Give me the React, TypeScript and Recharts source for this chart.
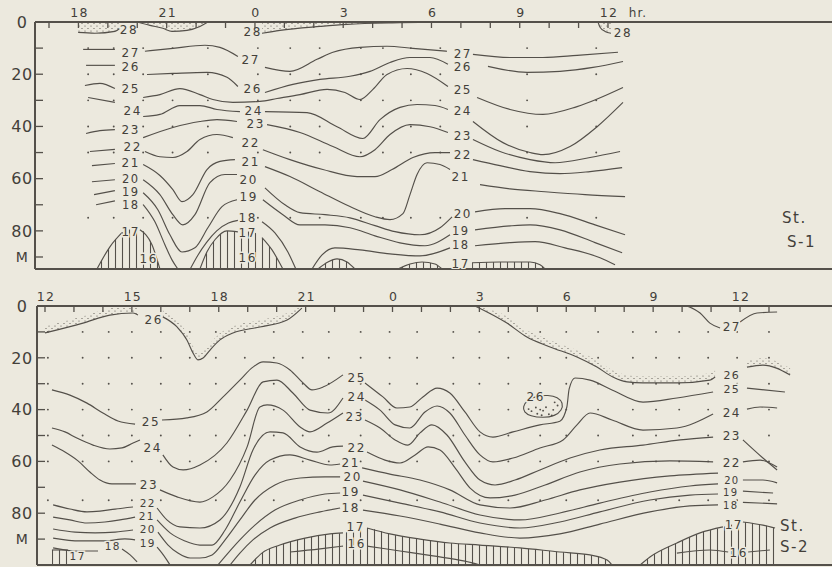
import React from 'react';
import { ComposedChart, Line, Area, Scatter, XAxis, YAxis, ReferenceLine } from 'recharts';

const BG = '#ece9de';
const INK = '#54504a';
const TXT = '#43403a';
const FONT = '"DejaVu Sans", "Liberation Sans", sans-serif';

type Pt = [number, number];
type Lb = [number, number, string, number?];

// ---------------- TOP PANEL (St. S-1) : hour (18 = 18h, 24 = 0h, 36 = 12h), depth m ----------------
const topHourTicks = [17, 18, 19, 20, 21, 22, 23, 24, 25, 26, 27, 28, 29, 30, 31, 32, 33, 34, 35, 36];
const topHourLabels: Record<number, string> = { 18: '18', 21: '21', 24: '0', 27: '3', 30: '6', 33: '9', 36: '12' };
const depthTicks = [0, 10, 20, 30, 40, 50, 60, 70, 80, 90];

const t28a: Pt[] = [[17.99, 4], [18.56, 4.3], [19.24, 3.6], [19.41, 2.4]];
const t28b: Pt[] = [[20.03, 0.1], [20.43, 1.3], [20.87, 2.4], [21.18, 3.6], [21.69, 3.2], [22.13, 1.7], [22.4, 0]];
const t28c: Pt[] = [[24.24, 4.3], [24.85, 3.2], [26.21, 1.7], [27.13, 0.9], [28.93, 0.3], [30.87, 0]];
const t28d: Pt[] = [[35.66, 0], [35.73, 2], [35.9, 3.6], [36.1, 4.3]];

const t27a: Pt[] = [[18.16, 10.5], [19.24, 10.5]];
const t27b: Pt[] = [[20.26, 11.2], [21.21, 10.1], [22.3, 8.9], [22.81, 9.7], [23.42, 13.2]];
const t27c: Pt[] = [[24.34, 17.4], [25.19, 18.9], [26.11, 14.3], [26.65, 11.6], [27.57, 9.7], [28.49, 9.3], [29.37, 10.1], [30.53, 11.2]];
const t27d: Pt[] = [[31.41, 12.4], [32.67, 13.6], [33.79, 13.6], [34.95, 12.8], [36.34, 11.6]];

const t26a: Pt[] = [[18.26, 16.6], [19.24, 16.6]];
const t26b: Pt[] = [[20.33, 20.1], [21.21, 19.7], [22.37, 19.3], [23.05, 21.2], [23.42, 24.7]];
const t26c: Pt[] = [[24.34, 27], [25.29, 23.9], [26.21, 22], [27.23, 20.8], [27.91, 18.9], [28.59, 15.5], [29.27, 13.6], [29.95, 13.6], [30.56, 16.2]];
const t26d: Pt[] = [[31.92, 17], [33.25, 19.3], [34.37, 18.9], [35.49, 17.4], [36.51, 15.1]];

const t25a: Pt[] = [[18.22, 24.3], [18.73, 23.5], [19.24, 25.5]];
const t25b: Pt[] = [[20.2, 28.9], [20.77, 27.8], [21.45, 25.5], [22.13, 27.8], [22.57, 29.7], [23.25, 30.8], [24.17, 30.4], [24.75, 29.3], [25.53, 27.8], [26.45, 25.8], [27.06, 27], [27.57, 29.7], [28.01, 25.8], [28.49, 20.1], [29.17, 17.8], [29.85, 19.7], [30.56, 24.7]];
const t25d: Pt[] = [[31.55, 28.9], [32.67, 33.5], [33.79, 35.4], [34.95, 32.4], [36.51, 25.1]];

const t24a: Pt[] = [[18.33, 28.9], [19.24, 30.8]];
const t24b: Pt[] = [[20.2, 36.2], [20.77, 35.4], [21.45, 32], [22.13, 32], [22.71, 33.5], [23.49, 34.3]];
const t24c: Pt[] = [[24.34, 34.3], [25.77, 34.7], [26.79, 40.1], [27.67, 44.6], [28.25, 37.4], [28.93, 32.7], [29.51, 31.6], [30.12, 32], [30.56, 33.5]];
const t24d: Pt[] = [[31.41, 38.1], [32.43, 46.2], [33.35, 50], [33.79, 50.8], [34.71, 47.7], [35.63, 40.1], [36.51, 30.8]];

const t23a: Pt[] = [[18.26, 42.7], [18.73, 41.6], [19.24, 41.2]];
const t23b: Pt[] = [[20.2, 44.3], [21.21, 40.4], [22.13, 38.1], [22.71, 37.4], [23.39, 38.1]];
const t23c: Pt[] = [[24.41, 39.3], [25.53, 42.3], [26.65, 47.7], [27.57, 51.6], [28.08, 48.9], [28.59, 43.1], [29.27, 39.3], [29.95, 40.1], [30.56, 42.3]];
const t23d: Pt[] = [[31.41, 45], [32.33, 49.6], [33.35, 52.7], [34.2, 53.9], [35.39, 51.9], [36.41, 49.6]];

const t22a: Pt[] = [[18.39, 49.6], [19.24, 48.8]];
const t22b: Pt[] = [[20.26, 49.6], [20.77, 51.6], [21.21, 51.9], [21.69, 49.6], [22.13, 45], [22.71, 43.1], [23.25, 44.3]];
const t22c: Pt[] = [[24.27, 48.9], [25.19, 52.7], [26.31, 56.5], [27.47, 59.2], [28.08, 59.2], [28.66, 56.5], [29.37, 51.9], [30.12, 50], [30.63, 50]];
const t22d: Pt[] = [[31.41, 52.7], [32.33, 55], [33.35, 57.3], [34.37, 58.1], [35.39, 57.3], [36.48, 55.8]];

const t21a: Pt[] = [[18.46, 55], [19.24, 54.2]];
const t21b: Pt[] = [[20.2, 54.6], [20.77, 58.8], [21.21, 64.2], [21.52, 68.8], [21.89, 66.1], [22.37, 56.5], [22.81, 53.4], [23.32, 52.7]];
const t21c: Pt[] = [[24.34, 55.4], [25.19, 59.2], [26.21, 65], [27.23, 70.7], [28.08, 74.6], [28.59, 75.7], [29.03, 73.4], [29.27, 66.1], [29.51, 58.4], [29.85, 53.9], [30.29, 54.6], [30.63, 56.5]];
const t21d: Pt[] = [[31.65, 62.3], [32.67, 63.9], [33.86, 65], [35.22, 66.1], [36.58, 66.9]];

const t20a: Pt[] = [[18.46, 61.2], [19.24, 60.4]];
const t20b: Pt[] = [[20.2, 60.4], [20.77, 66.1], [21.21, 73.8], [21.55, 77.7], [21.96, 73.8], [22.47, 61.5], [22.98, 58.4], [23.39, 58.4]];
const t20c: Pt[] = [[24.34, 63.5], [25.02, 70], [25.53, 73], [26.38, 73.8], [27.23, 75], [28.08, 78], [28.76, 80.3], [29.61, 81.5], [30.29, 78.8], [30.7, 74.6]];
const t20d: Pt[] = [[31.48, 72.7], [32.5, 71.5], [33.35, 71.5], [34.37, 73.4], [35.56, 77.7], [36.58, 81.5]];

const t19a: Pt[] = [[18.53, 66.1], [19.24, 64.6]];
const t19b: Pt[] = [[20.2, 65.4], [20.7, 71.9], [21.11, 81.5], [21.52, 88.1], [21.96, 86.5], [22.4, 78.8], [22.88, 70.7], [23.39, 68.1]];
const t19c: Pt[] = [[24.27, 68.1], [24.95, 73.8], [25.53, 77.7], [26.38, 77.7], [27.23, 78.8], [28.08, 81.9], [28.93, 84.6], [29.78, 85.7], [30.63, 81.5]];
const t19d: Pt[] = [[31.48, 79.6], [32.67, 78.1], [33.35, 77.7], [34.37, 79.6], [35.56, 84.5], [36.48, 88.4]];

const t18a: Pt[] = [[18.6, 70], [19.24, 68.5]];
const t18b: Pt[] = [[20.2, 69.9], [20.6, 76.5], [20.94, 85.3], [21.18, 91.1], [21.38, 94.6]];
const t18c: Pt[] = [[21.8, 94.6], [22.05, 89.5], [22.35, 84.5], [22.7, 80], [23.1, 77], [23.42, 76]];
const t18d: Pt[] = [[24.24, 76.5], [24.68, 80.8], [25.12, 88.1], [25.39, 94.6]];
const t18e: Pt[] = [[25.94, 94.6], [26.28, 89.2], [26.72, 86.5], [27.57, 87.3], [28.59, 88.8], [29.61, 89.6], [30.63, 86.5]];
const t18f: Pt[] = [[31.48, 85.7], [32.67, 84.5], [33.52, 84.1], [34.54, 86.5], [35.73, 90.3], [36.24, 93]];

const t17a: Pt[] = [[18.63, 94.6], [19.07, 86.1], [19.48, 80.7]];
const t17b: Pt[] = [[20.09, 79.6], [20.5, 85.3], [20.77, 94.6]];
const t17c: Pt[] = [[22.13, 94.6], [22.37, 88], [22.64, 83.4], [23.05, 80], [23.42, 80.4]];
const t17d: Pt[] = [[24.24, 82.6], [24.58, 87.3], [24.95, 94.6]];
const t17e: Pt[] = [[26.14, 94.6], [26.48, 91.9], [26.79, 90.7], [27.13, 91.9], [27.4, 94.6]];
const t17f: Pt[] = [[28.86, 94.6], [29.27, 92.7], [29.68, 91.9], [30.12, 92.7], [30.36, 94.6]];
const t17g: Pt[] = [[31.38, 92.2], [32.33, 91.9], [33.35, 91.9], [33.69, 93], [33.86, 94.6]];
const t17leftHump: Pt[] = [...t17a, [19.75, 79.5], ...t17b];
const t17midHump: Pt[] = [...t17c, [23.83, 80.2], ...t17d];

const topLabels: Lb[] = [
  [19.69, 2.8, '28'], [19.75, 11.6, '27'], [19.75, 17, '26'], [19.75, 25.5, '25'], [19.82, 33.9, '24'], [19.75, 41.2, '23'],
  [19.82, 47.7, '22'], [19.75, 53.9, '21'], [19.75, 60.2, '20', 11.5], [19.75, 65.2, '19', 11.5], [19.75, 70.2, '18', 11.5], [19.75, 80.4, '17'], [20.36, 90.7, '16'],
  [23.9, 3.6, '28'], [23.83, 14.3, '27'], [23.9, 25.5, '26'], [23.93, 33.9, '24'], [24, 38.9, '23'], [23.83, 46.2, '22'], [23.83, 53.5, '21'],
  [23.76, 60.4, '20'], [23.76, 66.9, '19'], [23.73, 75, '18'], [23.73, 80.7, '17'], [23.73, 90.3, '16'],
  [31.04, 12, '27'], [31.04, 17, '26'], [31.04, 25.8, '25'], [31.04, 33.9, '24'], [31.04, 43.5, '23'], [31.04, 50.8, '22'], [30.97, 59.2, '21'],
  [31.04, 73.4, '20'], [30.97, 80.1, '19', 11.5], [30.97, 85.3, '18', 11.5], [30.97, 92.6, '17'], [36.48, 4, '28'],
];
const topObsHours = [18.33, 19.2, 20.2, 21.2, 22.4, 24.1, 25.2, 26.2, 27.6, 28.35, 29.3, 30.3, 33.25, 35.6];
const topObsDepths = [10, 20, 30, 40, 50, 75];

// ---------------- BOTTOM PANEL (St. S-2) ----------------
const botHourTicks = [12, 13, 14, 15, 16, 17, 18, 19, 20, 21, 22, 23, 24, 25, 26, 27, 28, 29, 30, 31, 32, 33, 34, 35, 36, 37];
const botHourLabels: Record<number, string> = { 12: '12', 15: '15', 18: '18', 21: '21', 24: '0', 27: '3', 30: '6', 33: '9', 36: '12' };

const b26a: Pt[] = [[12, 10.4], [13.31, 6.6], [14.24, 3.5], [15.04, 2.7], [15.21, 3.5]];
const b26b: Pt[] = [[16.07, 4.2], [16.56, 8.1], [16.9, 13.1], [17.11, 18.1], [17.28, 20.8], [17.46, 20.1], [17.7, 17], [18.04, 13.1], [18.49, 10.4], [19.42, 8.1], [20.36, 5.4], [20.87, 0.8]];
const b26c: Pt[] = [[26.85, 0], [27.95, 6.6], [28.64, 12], [29.44, 15.8], [30.37, 19.7], [31.06, 23.6], [31.61, 27.4], [32.1, 29.3], [32.65, 29.7], [33.82, 29.7], [34.96, 28.6], [35.14, 27.4]];
const b26d: Pt[] = [[36.24, 23.6], [36.79, 22.8], [37.73, 26.6]];
const b26loop: Pt[] = [[28.5, 39], [28.64, 36.3], [28.99, 34.7], [29.37, 34.4], [29.71, 35.1], [29.89, 37.5], [29.85, 40.2], [29.61, 42.5], [29.2, 43.2], [28.75, 42.5], [28.54, 40.9]];
const b26loopDots: Pt[] = [[28.8, 40.6], [29.0, 41.6], [29.2, 40.4], [29.4, 41.8], [29.55, 40.1], [29.7, 38.4], [28.95, 39.2], [29.3, 39.1], [29.6, 37.2], [29.15, 42.2], [28.7, 39.8], [29.5, 42.3]];

const b27a: Pt[] = [[34.17, 0], [34.62, 2.7], [34.96, 6.6], [35.31, 8.5]];
const b27b: Pt[] = [[36, 6.2], [36.59, 2.7], [37.28, 2.3]];

const b25a: Pt[] = [[12.24, 32.4], [12.86, 34.4], [13.45, 37.5], [14, 41.3], [14.52, 44.4], [15.11, 45.6]];
const b25b: Pt[] = [[16.04, 44], [16.9, 43.2], [17.59, 40.9], [18.15, 35.1], [18.73, 28.6], [19.18, 23.6], [19.53, 21.6], [20.01, 22], [20.46, 24.7], [20.91, 29.7], [21.22, 32.4], [21.6, 31.3], [22.29, 26.6]];
const b25c: Pt[] = [[23.05, 29.7], [23.67, 35.1], [24.15, 39.4], [24.6, 39], [25.05, 35.1], [25.54, 31.7], [25.98, 33.6], [26.5, 40.9], [27.02, 48.6], [27.47, 50.6], [28.16, 48.6], [29.09, 45.9], [29.78, 44.5], [30.02, 39], [30.1, 32], [30.3, 27.8], [30.82, 28.6], [31.58, 32.4], [32.65, 37.1], [33.82, 35.5], [35.07, 33.2]];
const b25d: Pt[] = [[36.24, 31.7], [37.55, 33.2]];

const b24a: Pt[] = [[12.24, 47.1], [12.69, 48.6], [13.1, 51], [13.66, 53.7], [14.24, 55.2], [14.66, 54.8], [15.04, 52.9], [15.28, 51.7]];
const b24b: Pt[] = [[16.07, 57.5], [16.42, 62.2], [16.77, 63.3], [17.35, 61.4], [18.28, 52.9], [18.98, 40.2], [19.53, 29.3], [20.01, 28.6], [20.56, 33.6], [21.15, 40.2], [21.77, 41.3], [22.29, 35.5]];
const b24c: Pt[] = [[23.05, 36.3], [23.57, 40.2], [24.09, 45.9], [24.6, 47.1], [25.12, 40.9], [25.54, 38.6], [25.98, 41.3], [26.5, 49.8], [27.02, 57.5], [27.47, 60.2], [28.16, 58.7], [29.09, 54.8], [29.89, 51.7], [30.37, 45.9], [30.82, 41.3], [31.58, 44], [32.65, 47.9], [33.82, 47.1], [35.07, 41.7]];
const b24d: Pt[] = [[36.24, 39.8], [36.69, 39], [37.28, 39.4]];

const b23a: Pt[] = [[12.24, 53.7], [12.69, 56.4], [13.14, 59.8], [13.55, 64.1], [13.9, 67.2], [14.31, 68.7], [14.76, 68.7], [15.14, 68.7]];
const b23b: Pt[] = [[15.97, 71], [16.56, 73.7], [17.35, 75.7], [17.8, 73.7], [18.39, 67.2], [18.98, 54.4], [19.42, 39], [19.67, 38.2], [20.22, 40.2], [20.81, 46.7], [21.15, 48.6], [21.74, 45.2], [22.29, 41.3]];
const b23c: Pt[] = [[23.05, 44], [23.57, 47.1], [24.09, 51.7], [24.53, 53.7], [24.95, 49], [25.36, 45.9], [25.88, 49.8], [26.5, 60.2], [27.02, 67.2], [27.54, 69.1], [28.23, 67.2], [29.09, 63.3], [30.13, 58.7], [31.16, 55.6], [32.65, 53.7], [33.93, 51.7], [35.07, 50.6]];
const b23d: Pt[] = [[36.1, 51.7], [36.79, 58.7], [37.28, 63.3]];

const b22a: Pt[] = [[12.28, 76.8], [12.86, 78.4], [13.45, 79.5], [13.9, 79.2], [14.42, 78.4], [15.04, 77.6]];
const b22b: Pt[] = [[15.87, 78], [16.21, 82.6], [16.66, 85.3], [17.35, 85.7], [18.04, 82.6], [18.73, 69.9], [19.18, 55.6], [19.77, 48.6], [20.22, 49], [20.81, 54.4], [21.39, 56.4], [21.94, 54.4], [22.29, 54.1]];
const b22c: Pt[] = [[23.12, 56.4], [23.74, 59.5], [24.26, 60.6], [24.78, 57.5], [25.23, 54.4], [25.64, 55.6], [26.16, 62.5], [26.68, 70.3], [27.37, 74.1], [28.23, 73], [29.27, 69.1], [30.47, 64.1], [31.85, 61], [33.58, 59.8], [35.07, 60.2]];
const b22d: Pt[] = [[36.1, 60.2], [36.69, 59.5], [37.28, 62.2]];

const b21a: Pt[] = [[12.28, 81.5], [12.86, 82.6], [13.45, 83.8], [14.07, 83.4], [14.59, 82.6], [15.11, 81.5]];
const b21b: Pt[] = [[15.87, 82.6], [16.32, 87.6], [16.83, 90.7], [17.35, 92.3], [17.77, 92.3], [18.22, 86.5], [18.73, 75.7], [19.25, 65.3], [19.77, 59.5], [20.46, 57.5], [21.15, 59.5], [21.84, 61.4], [22.19, 61]];
const b21c: Pt[] = [[22.95, 62.5], [23.91, 64.9], [24.95, 67.2], [25.98, 71], [27.02, 76.8], [28.06, 78], [29.27, 74.9], [30.47, 71], [31.85, 68], [33.58, 65.6], [35.24, 64.5]];

const b20a: Pt[] = [[12.28, 86.1], [13.04, 87.3], [13.73, 87.6], [14.42, 87.3], [15.04, 86.5]];
const b20b: Pt[] = [[15.9, 87.3], [16.25, 92.3], [16.59, 95.4], [17.01, 97.3], [17.35, 97.3], [17.77, 96.1], [18.22, 90.3], [18.73, 82.6], [19.25, 74.9], [19.94, 69.1], [20.81, 66.4], [21.67, 66], [22.19, 66]];
const b20c: Pt[] = [[22.98, 67.6], [24.26, 71], [25.64, 75.7], [27.02, 80.7], [28.4, 82.6], [29.78, 79.9], [31.16, 76.1], [32.89, 71.8], [34.27, 69.5], [35.24, 68.7]];
const b20d: Pt[] = [[36.1, 67.2], [36.79, 67.2], [37.28, 68.3]];

const b19a: Pt[] = [[12.28, 89.6], [13.21, 90.7], [14.07, 90.7], [14.76, 89.9], [15.11, 90.3]];
const b19b: Pt[] = [[15.87, 93.1], [16.04, 95.4], [16.21, 98.1], [16.32, 100]];
const b19c: Pt[] = [[17.97, 100], [18.32, 95.4], [18.73, 90.3], [19.25, 84.6], [19.94, 78.8], [20.81, 74.9], [21.67, 72.6], [22.19, 72.2]];
const b19d: Pt[] = [[22.98, 73], [24.26, 76.1], [25.64, 79.5], [27.02, 83.8], [28.4, 85.7], [29.78, 83.4], [31.16, 79.5], [32.89, 74.9], [34.27, 73], [35.24, 72.6]];
const b19e: Pt[] = [[36.1, 71.5], [37.14, 72.2]];

const b18a: Pt[] = [[12.28, 93.4], [13.04, 94.6], [13.83, 94.6]];
const b18b: Pt[] = [[14.66, 93.8], [14.94, 96.1], [15.18, 98.8]];
const b18c: Pt[] = [[18.39, 100], [18.73, 95.4], [19.18, 90.3], [19.77, 85.7], [20.63, 81.9], [21.5, 79.5], [22.19, 78]];
const b18d: Pt[] = [[22.98, 78.8], [24.26, 81.1], [25.64, 84.2], [27.02, 87.6], [28.4, 89.6], [29.78, 88], [31.16, 84.2], [32.89, 79.5], [34.27, 77.2], [35.24, 76.8]];
const b18e: Pt[] = [[36.1, 75.8], [37.28, 76.4]];

const b17a: Pt[] = [[12.24, 94.2], [12.79, 94.2]];
const b17m: Pt[] = [[19.08, 100], [19.49, 95.4], [20.11, 92.3], [20.98, 89.6], [21.84, 88], [22.29, 87.6]];
const b17n: Pt[] = [[23.12, 85.7], [23.91, 88], [24.95, 90], [25.98, 91.5], [27.02, 92.3], [28.4, 93.4], [29.78, 95], [30.82, 96.1], [31.41, 98.1], [31.58, 100]];
const b17r1: Pt[] = [[32.55, 100], [32.89, 96.9], [33.82, 91.5], [34.62, 87.6], [35.41, 85.3]];
const b17r2: Pt[] = [[36.1, 83.4], [36.79, 84.6], [37.21, 85.7]];
const b17mid: Pt[] = [...b17m, [22.7, 86.6], ...b17n];
const b17right: Pt[] = [...b17r1, [35.76, 84.3], ...b17r2];

const b16m1: Pt[] = [[20.46, 95], [21.5, 93.8], [22.29, 92.7]];
const b16m2: Pt[] = [[23.12, 92.7], [24.26, 94.6], [25.4, 96.5], [26.5, 98.5], [27.02, 100]];
const b16r1: Pt[] = [[33.82, 95.4], [34.96, 94.2], [35.59, 95]];
const b16r2: Pt[] = [[36.28, 95], [37.03, 94.2]];

const botLabels: Lb[] = [
  [15.73, 5.4, '26'], [15.63, 44.8, '25'], [15.69, 54.8, '24'], [15.56, 69.1, '23'], [15.52, 76.2, '22', 10.5], [15.49, 81.2, '21', 10.5],
  [15.52, 86.2, '20', 10.5], [15.52, 91.4, '19', 10.5], [14.31, 92.7, '18', 10.5], [13.1, 96.5, '17', 10.5],
  [22.74, 27.8, '25'], [22.74, 35.1, '24'], [22.67, 42.9, '23'], [22.74, 54.8, '22'], [22.53, 60.6, '21'], [22.6, 66, '20'],
  [22.53, 71.8, '19'], [22.53, 78, '18'], [22.7, 85.3, '17'], [22.74, 91.9, '16'],
  [28.92, 35.1, '26'],
  [35.69, 8.1, '27'], [35.69, 26.6, '26', 11], [35.69, 32.2, '25', 11], [35.69, 41.3, '24'], [35.69, 50.2, '23'], [35.69, 60.6, '22'],
  [35.69, 67.3, '20', 10], [35.65, 72.1, '19', 10], [35.65, 76.9, '18', 10], [35.76, 84.6, '17'], [35.93, 95.4, '16'],
];
const botObsHours = [12.1, 13.3, 14.2, 15, 16, 17, 17.9, 18.9, 19.9, 20.9, 21.8, 22.9, 23.9, 24.85, 26.1, 27, 28, 29.1, 30, 31.1, 32.3, 33.1, 33.9, 34.9, 35.9, 37];
const botObsDepths = [10, 20, 30, 40, 50, 60, 75];

// ---------------- helpers ----------------
const P = (a: Pt[]) => a.map(([h, d]) => ({ h, d }));
const surf = (a: Pt[]) => a.map(([h, d]) => ({ h, r: [0, d] }));
const band = (a: Pt[], w: number) => a.map(([h, d]) => ({ h, r: [Math.max(0, d - w), d] }));
const floor = (a: Pt[], m: number) => a.map(([h, d]) => ({ h, r: [d, m] }));
const L = (a: Lb[]) => a.map(([h, d, t, s]) => ({ h, d, t, s: s || 12 }));
const grid = (hs: number[], ds: number[]) => hs.flatMap((h) => ds.map((d) => ({ h, d })));

const LabelShape = (props: any) => {
  const { cx, cy, payload } = props;
  if (cx == null || cy == null) return <g />;
  const s = payload.s;
  return (
    <text x={cx + 0.8} y={cy} dy="0.36em" textAnchor="middle" fontSize={s} fontFamily={FONT} fill={TXT}
      letterSpacing={s * 0.13} stroke={BG} strokeWidth={3} paintOrder="stroke">{payload.t}</text>
  );
};
const DotShape = (props: any) => {
  const { cx, cy } = props;
  if (cx == null || cy == null) return <g />;
  return <circle cx={cx} cy={cy} r={0.95} fill={INK} />;
};

type PanelProps = {
  id: string; top: number; height: number; bottomMargin: number; xAxisH: number; yAxisW: number;
  xDomain: [number, number]; yMax: number; xTicks: number[]; xLabels: Record<number, string>; hrLabel?: boolean;
  lines: Pt[][]; loops?: Pt[][]; hatches: Pt[][]; surfaces: Pt[][]; bands: Pt[][]; labels: Lb[]; dots: { h: number; d: number }[]; extraDots?: Pt[];
};

function Panel(p: PanelProps) {
  const plotTop = p.xAxisH;
  const plotLeft = p.yAxisW;
  const XTick = (props: any) => {
    const { x, payload } = props;
    const v = payload.value;
    const lab = p.xLabels[v];
    return (
      <g>
        <line x1={x} x2={x} y1={plotTop} y2={plotTop + 6} stroke={INK} strokeWidth={1.3} />
        {lab !== undefined && (
          <text x={x + 1} y={plotTop - 5} textAnchor="middle" fontSize={12.5} fontFamily={FONT} fill={TXT} letterSpacing={1.2}>{lab}</text>
        )}
        {p.hrLabel && v === 36 && (
          <text x={x + 30} y={plotTop - 5} textAnchor="middle" fontSize={12} fontFamily={FONT} fill={TXT} letterSpacing={1}>hr.</text>
        )}
      </g>
    );
  };
  const YTick = (props: any) => {
    const { y, payload } = props;
    const v = payload.value;
    const lab = v === 90 ? 'M' : v % 20 === 0 ? String(v) : '';
    return (
      <g>
        {v !== 0 && <line x1={plotLeft} x2={plotLeft + 8} y1={y} y2={y} stroke={INK} strokeWidth={1.3} />}
        {lab && (
          <text x={22} y={y} dy="0.36em" textAnchor="middle" fontSize={v === 90 ? 14 : 16} fontFamily={FONT} fill={TXT} letterSpacing={0.5}>{lab}</text>
        )}
      </g>
    );
  };
  return (
    <div style={{ position: 'absolute', left: 0, top: p.top }}>
      <ComposedChart width={832} height={p.height} margin={{ top: 0, right: 0, bottom: p.bottomMargin, left: 0 }}>
        <defs>
          <pattern id={`vh-${p.id}`} width="7" height="8" patternUnits="userSpaceOnUse">
            <line x1="3.5" y1="0" x2="3.5" y2="8" stroke={INK} strokeWidth="1.1" />
          </pattern>
          <pattern id={`st-${p.id}`} width="6" height="5" patternUnits="userSpaceOnUse">
            <circle cx="1" cy="1" r="0.6" fill={INK} />
            <circle cx="4" cy="3.5" r="0.6" fill={INK} />
          </pattern>
        </defs>
        <XAxis xAxisId={0} type="number" dataKey="h" orientation="top" domain={p.xDomain} allowDataOverflow
          ticks={p.xTicks} interval={0} height={p.xAxisH} axisLine={{ stroke: INK, strokeWidth: 2 }} tickLine={false} tick={XTick} />
        <YAxis yAxisId={0} type="number" dataKey="d" domain={[0, p.yMax]} allowDataOverflow reversed ticks={depthTicks}
          interval={0} width={p.yAxisW} axisLine={{ stroke: INK, strokeWidth: 2 }} tickLine={false} tick={YTick} />
        <ReferenceLine y={p.yMax} stroke={INK} strokeWidth={2} />
        <Scatter data={p.dots} dataKey="d" shape={DotShape} isAnimationActive={false} legendType="none" />
        {p.extraDots && <Scatter data={P(p.extraDots)} dataKey="d" shape={DotShape} isAnimationActive={false} legendType="none" />}
        {p.hatches.map((a, i) => (
          <Area key={`h${i}`} data={floor(a, p.yMax)} dataKey="r" type="monotone" stroke="none" fill={`url(#vh-${p.id})`}
            fillOpacity={1} isAnimationActive={false} legendType="none" dot={false} activeDot={false} />
        ))}
        {p.surfaces.map((a, i) => (
          <Area key={`s${i}`} data={surf(a)} dataKey="r" type="monotone" stroke="none" fill={`url(#st-${p.id})`}
            fillOpacity={1} isAnimationActive={false} legendType="none" dot={false} activeDot={false} />
        ))}
        {p.bands.map((a, i) => (
          <Area key={`b${i}`} data={band(a, 2.6)} dataKey="r" type="monotone" stroke="none" fill={`url(#st-${p.id})`}
            fillOpacity={1} isAnimationActive={false} legendType="none" dot={false} activeDot={false} />
        ))}
        {p.lines.map((a, i) => (
          <Line key={`l${i}`} data={P(a)} dataKey="d" type="monotone" stroke={INK} strokeWidth={1.15}
            dot={false} activeDot={false} isAnimationActive={false} legendType="none" />
        ))}
        {(p.loops || []).map((a, i) => (
          <Line key={`o${i}`} data={P(a)} dataKey="d" type="basisClosed" stroke={INK} strokeWidth={1.15}
            dot={false} activeDot={false} isAnimationActive={false} legendType="none" />
        ))}
        <Scatter data={L(p.labels)} dataKey="d" shape={LabelShape} isAnimationActive={false} legendType="none" />
      </ComposedChart>
    </div>
  );
}

const stationText: React.CSSProperties = {
  position: 'absolute', fontFamily: FONT, fontSize: 15, color: TXT, letterSpacing: 1.5, lineHeight: '16px',
};

export default function App() {
  const topLines = [
    t28a, t28b, t28c, t28d,
    t27a, t27b, t27c, t27d, t26a, t26b, t26c, t26d, t25a, t25b, t25d, t24a, t24b, t24c, t24d,
    t23a, t23b, t23c, t23d, t22a, t22b, t22c, t22d, t21a, t21b, t21c, t21d, t20a, t20b, t20c, t20d,
    t19a, t19b, t19c, t19d, t18a, t18b, t18c, t18d, t18e, t18f, t17a, t17b, t17c, t17d, t17e, t17f, t17g,
  ];
  const botLines = [
    b26a, b26b, b26c, b26d, b27a, b27b, b25a, b25b, b25c, b25d, b24a, b24b, b24c, b24d, b23a, b23b, b23c, b23d,
    b22a, b22b, b22c, b22d, b21a, b21b, b21c, b20a, b20b, b20c, b20d, b19a, b19b, b19c, b19d, b19e,
    b18a, b18b, b18c, b18d, b18e, b17a, b17m, b17n, b17r1, b17r2, b16m1, b16m2, b16r1, b16r2,
  ];
  return (
    <div style={{ position: 'absolute', left: 0, top: 0, width: 832, height: 567, background: BG, overflow: 'hidden' }}>
      <Panel id="s1" top={0} height={285} bottomMargin={16} xAxisH={22} yAxisW={35}
        xDomain={[16.524, 43.614]} yMax={94.6} xTicks={topHourTicks} xLabels={topHourLabels} hrLabel
        lines={topLines} hatches={[t17leftHump, t17midHump, t17e, t17f, t17g]}
        surfaces={[t28a, t28b, t28c, t28d]} bands={[]} labels={topLabels} dots={grid(topObsHours, topObsDepths)} />
      <Panel id="s2" top={285} height={282} bottomMargin={2} xAxisH={21} yAxisW={37}
        xDomain={[11.724, 39.176]} yMax={100} xTicks={botHourTicks} xLabels={botHourLabels}
        lines={botLines} loops={[b26loop]} hatches={[b17a, b17mid, b17right]}
        surfaces={[]} bands={[b26a, b26b, b26c, b26d]} labels={botLabels} dots={grid(botObsHours, botObsDepths)} extraDots={b26loopDots} />
      <div style={{ ...stationText, left: 782, top: 210 }}>St.</div>
      <div style={{ ...stationText, left: 787, top: 234 }}>S-1</div>
      <div style={{ ...stationText, left: 780, top: 518 }}>St.</div>
      <div style={{ ...stationText, left: 780, top: 539 }}>S-2</div>
    </div>
  );
}
